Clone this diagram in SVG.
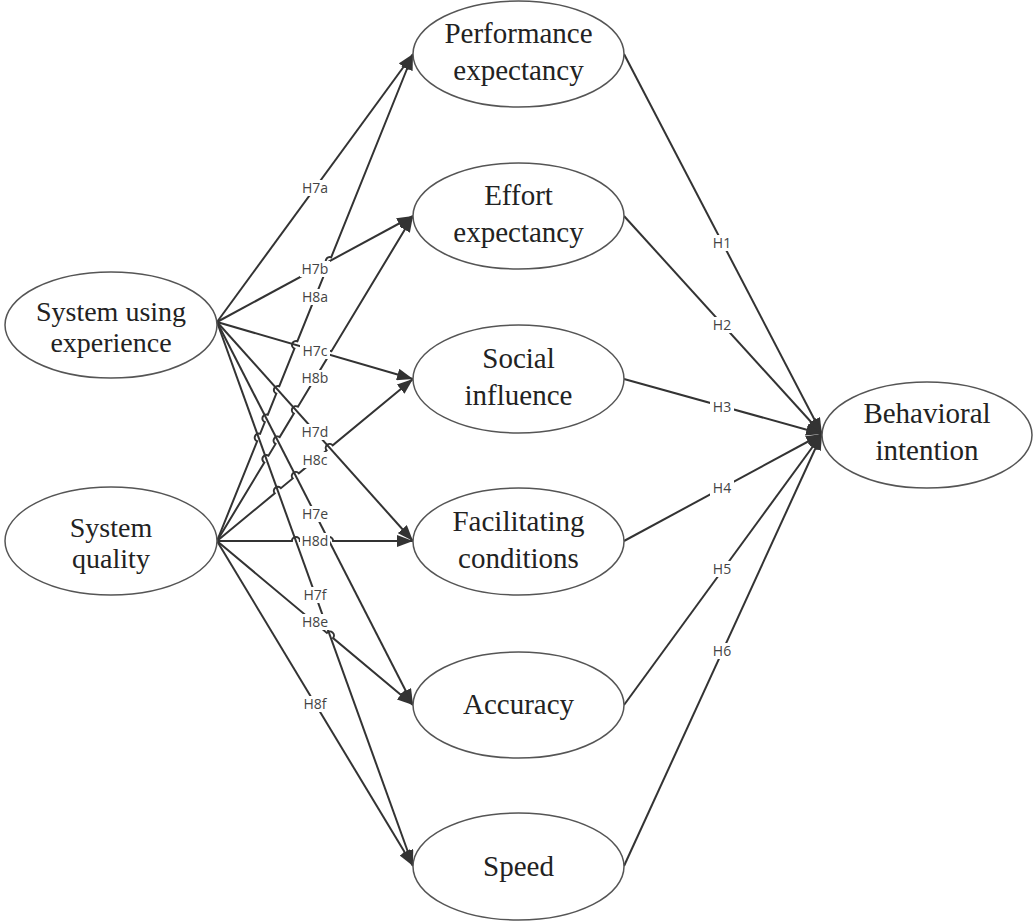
<svg xmlns="http://www.w3.org/2000/svg" width="1033" height="921" viewBox="0 0 1033 921">
<defs>
<marker id="arr" markerUnits="userSpaceOnUse" markerWidth="16" markerHeight="12" refX="16" refY="6" orient="auto">
<path d="M0,0 L16,6 L0,12 z" fill="#333"/>
</marker>
<style>
.node ellipse{fill:#fff;stroke:#555;stroke-width:1.5}
.node text{font-family:"Liberation Serif","Times New Roman",serif;font-size:29px;fill:#222;text-anchor:middle}
.node text.s{font-size:28px}
.edges path,.edges line{fill:none;stroke:#333;stroke-width:2;marker-end:url(#arr)}
.lbl rect{fill:#fff;stroke:none}
.lbl text{font-family:"Open Sans","DejaVu Sans",sans-serif;font-size:14px;fill:#444;text-anchor:middle}
</style>
</defs>
<rect width="1033" height="921" fill="#fff"/>

<g id="connectors" class="edges">
<!-- System using experience edges -->
<line x1="217" y1="322" x2="413" y2="54"/>
<line x1="217" y1="322" x2="413" y2="216"/>
<line x1="217" y1="322" x2="413" y2="379"/>
<line x1="217" y1="322" x2="413" y2="541"/>
<line x1="217" y1="322" x2="413" y2="705"/>
<line x1="217" y1="322" x2="413" y2="866"/>
<!-- System quality edges with line hops -->
<path d="M217,541 L257.14,441.27 A4,4 0 0 1 260.12,433.85 L264.84,422.13 A4,4 0 0 1 267.82,414.71 L276.31,393.64 A4,4 0 0 1 279.29,386.22 L294.42,348.64 A4,4 0 0 1 297.40,341.22 L328.17,264.78 A4,4 0 0 1 331.15,257.36 L413,54"/>
<path d="M217,541 L264.32,462.53 A4,4 0 0 1 268.46,455.67 L275.55,443.91 A4,4 0 0 1 279.69,437.05 L293.84,413.59 A4,4 0 0 1 297.98,406.73 L327.30,358.11 A4,4 0 0 1 331.44,351.25 L413,216"/>
<path d="M217,541 L274.72,493.30 A4,4 0 0 1 280.88,488.20 L292.67,478.46 A4,4 0 0 1 298.83,473.36 L326.58,450.43 A4,4 0 0 1 332.74,445.33 L413,379"/>
<path d="M217,541 L291.91,541 A4,4 0 0 1 299.91,541 L325.07,541 A4,4 0 0 1 333.07,541 L413,541"/>
<path d="M217,541 L326.88,632.94 A4,4 0 0 1 333.02,638.08 L413,705"/>
<line x1="217" y1="541" x2="413" y2="866"/>
<!-- to Behavioral intention -->
<line x1="624" y1="54" x2="822" y2="434"/>
<line x1="624" y1="216" x2="822" y2="434"/>
<line x1="624" y1="379" x2="822" y2="434"/>
<line x1="624" y1="541" x2="822" y2="434"/>
<line x1="624" y1="705" x2="822" y2="434"/>
<line x1="624" y1="866" x2="822" y2="434"/>
</g>

<g id="labels" class="lbl">
<rect x="300" y="180" width="30" height="16"/><text x="315" y="193">H7a</text>
<rect x="300" y="261" width="30" height="16"/><text x="315" y="274">H7b</text>
<rect x="300" y="289" width="30" height="16"/><text x="315" y="302">H8a</text>
<rect x="300" y="343" width="30" height="16"/><text x="315" y="356">H7c</text>
<rect x="300" y="370" width="30" height="16"/><text x="315" y="383">H8b</text>
<rect x="300" y="424" width="30" height="16"/><text x="315" y="437">H7d</text>
<rect x="300" y="452" width="30" height="16"/><text x="315" y="465">H8c</text>
<rect x="300" y="506" width="30" height="16"/><text x="315" y="519">H7e</text>
<rect x="300" y="533" width="30" height="16"/><text x="315" y="546">H8d</text>
<rect x="300" y="587" width="30" height="16"/><text x="315" y="600">H7f</text>
<rect x="300" y="614" width="30" height="16"/><text x="315" y="627">H8e</text>
<rect x="300" y="696" width="30" height="16"/><text x="315" y="709">H8f</text>
<rect x="710" y="235" width="24" height="16"/><text x="722" y="248">H1</text>
<rect x="710" y="317" width="24" height="16"/><text x="722" y="330">H2</text>
<rect x="710" y="399" width="24" height="16"/><text x="722" y="412">H3</text>
<rect x="710" y="480" width="24" height="16"/><text x="722" y="493">H4</text>
<rect x="710" y="561" width="24" height="16"/><text x="722" y="574">H5</text>
<rect x="710" y="643" width="24" height="16"/><text x="722" y="656">H6</text>
</g>

<g id="n-sue" class="node">
<ellipse cx="111" cy="325" rx="106" ry="53"/>
<text class="s" x="111" y="321">System using</text>
<text class="s" x="111" y="352">experience</text>
</g>
<g id="n-sq" class="node">
<ellipse cx="111" cy="541" rx="106" ry="54"/>
<text class="s" x="111" y="537">System</text>
<text class="s" x="111" y="568">quality</text>
</g>
<g id="n-pe" class="node">
<ellipse cx="518.5" cy="54" rx="105.5" ry="53"/>
<text x="518.5" y="43">Performance</text>
<text x="518.5" y="80">expectancy</text>
</g>
<g id="n-ee" class="node">
<ellipse cx="518.5" cy="216" rx="105.5" ry="53"/>
<text x="518.5" y="205">Effort</text>
<text x="518.5" y="242">expectancy</text>
</g>
<g id="n-si" class="node">
<ellipse cx="518.5" cy="379" rx="105.5" ry="54"/>
<text x="518.5" y="368">Social</text>
<text x="518.5" y="405">influence</text>
</g>
<g id="n-fc" class="node">
<ellipse cx="518.5" cy="541.5" rx="105.5" ry="53.5"/>
<text x="518.5" y="531">Facilitating</text>
<text x="518.5" y="568">conditions</text>
</g>
<g id="n-acc" class="node">
<ellipse cx="518.5" cy="705" rx="105.5" ry="53"/>
<text x="518.5" y="714">Accuracy</text>
</g>
<g id="n-spd" class="node">
<ellipse cx="518.5" cy="866.5" rx="105.5" ry="53.5"/>
<text x="518.5" y="876">Speed</text>
</g>
<g id="n-bi" class="node">
<ellipse cx="927" cy="435" rx="105" ry="53"/>
<text x="927" y="423">Behavioral</text>
<text x="927" y="460">intention</text>
</g>
</svg>
